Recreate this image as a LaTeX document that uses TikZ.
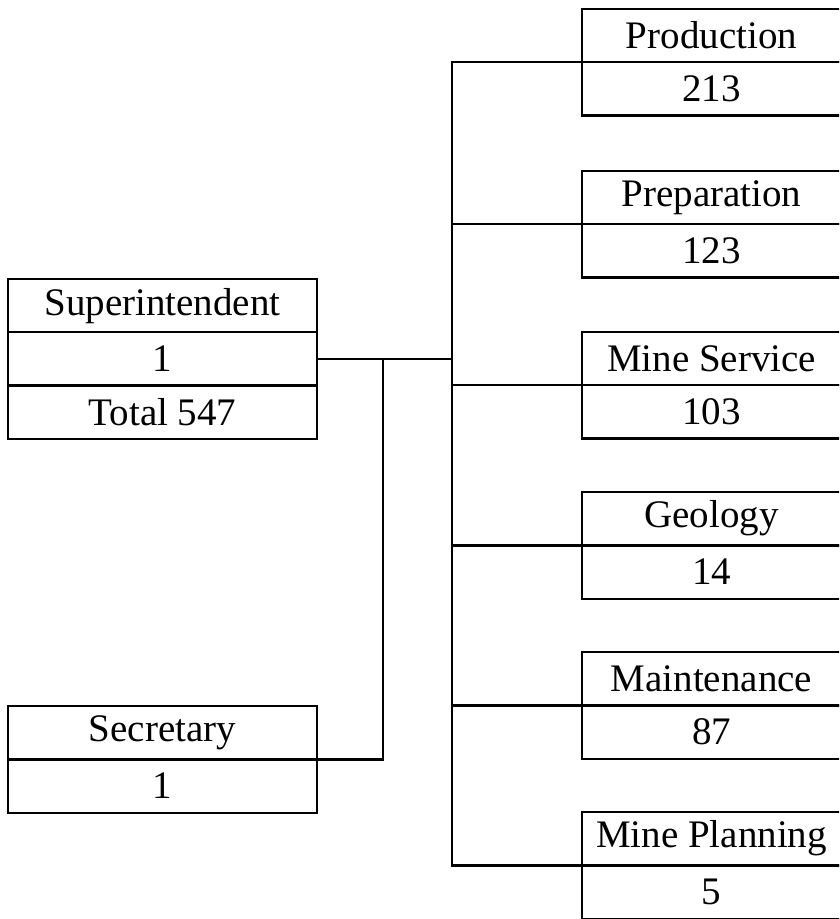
\documentclass[tikz,border=0pt]{standalone}
\usepackage{fontspec}
\setmainfont{Liberation Serif}
\usetikzlibrary{positioning}

\tikzset{
  cell/.style={draw, line width=0.7pt, inner sep=0pt, outer sep=0pt,
    minimum height=16pt, font=\fontsize{11.7}{13}\selectfont},
  deptcell/.style={cell, minimum width=77.7pt},
  headcell/.style={cell, minimum width=92.7pt},
  link/.style={line width=0.7pt}
}

\begin{document}
\begin{tikzpicture}[x=0.3pt, y=-0.3pt]
        \useasboundingbox (0,0) rectangle (839,919);
        \clip (0,0) rectangle (839,919);
        % left side
        \node[headcell, anchor=north west] (sup-a) at (8,279) {Superintendent};
        \node[headcell, below=0pt of sup-a] (sup-b) {1};
        \node[headcell, below=0pt of sup-b] (sup-c) {Total 547};
        \node[headcell, anchor=north west] (sec-a) at (8,706) {Secretary};
        \node[headcell, below=0pt of sec-a] (sec-b) {1};
        % departments
        \node[deptcell, anchor=north west] (prod-a) at (582,9) {Production};
        \node[deptcell, below=0pt of prod-a] (prod-b) {213};
        \node[deptcell, anchor=north west] (prep-a) at (582,171) {Preparation};
        \node[deptcell, below=0pt of prep-a] (prep-b) {123};
        \node[deptcell, anchor=north west] (serv-a) at (582,332) {Mine Service};
        \node[deptcell, below=0pt of serv-a] (serv-b) {103};
        \node[deptcell, anchor=north west] (geo-a) at (582,492) {Geology};
        \node[deptcell, below=0pt of geo-a] (geo-b) {14};
        \node[deptcell, anchor=north west] (maint-a) at (582,652) {Maintenance};
        \node[deptcell, below=0pt of maint-a] (maint-b) {87};
        \node[deptcell, anchor=north west] (plan-a) at (582,812) {Mine Planning};
        \node[deptcell, below=0pt of plan-a] (plan-b) {5};
        % connectors
        \coordinate (trunk) at (452,0);
        \coordinate (junc) at (383,0);
        \draw[link] (prod-a.south west) -- (prod-a.south west -| trunk)
              -- (plan-a.south west -| trunk) -- (plan-a.south west);
        \foreach \d in {prep,serv,geo,maint}
          \draw[link] (\d-a.south west) -- (\d-a.south west -| trunk);
        \draw[link] (sup-b.east) -- (sup-b.east -| trunk);
        \draw[link] (sec-a.south east) -| (junc |- sup-b.east);
    \end{tikzpicture}
\end{document}
